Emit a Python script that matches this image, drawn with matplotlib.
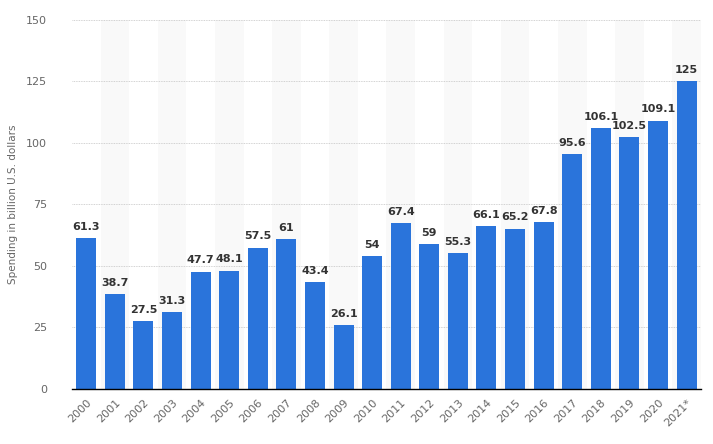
import matplotlib.pyplot as plt

years = ["2000", "2001", "2002", "2003", "2004", "2005", "2006", "2007", "2008",
         "2009", "2010", "2011", "2012", "2013", "2014", "2015", "2016", "2017",
         "2018", "2019", "2020", "2021*"]
spending = [61.3, 38.7, 27.5, 31.3, 47.7, 48.1, 57.5, 61, 43.4, 26.1, 54, 67.4,
            59, 55.3, 66.1, 65.2, 67.8, 95.6, 106.1, 102.5, 109.1, 125]

fig = plt.figure(figsize=(7.13, 4.44), dpi=100)
ax = fig.add_axes([0.101, 0.124, 0.882, 0.831])

x = list(range(len(years)))

# light alternating column bands
for i in x:
    if i % 2 == 1:
        ax.axvspan(i - 0.5, i + 0.5, color="#f9f9f9", zorder=0, lw=0)

ax.bar(x, spending, width=0.7, color="#2a74db", zorder=3)

for xi, v in zip(x, spending):
    ax.text(xi, v + 2.5, f"{v:g}", ha="center", va="bottom", fontsize=8,
            fontweight="bold", color="#333333", zorder=4)

ax.set_xlim(-0.5, len(years) - 0.5)
ax.set_ylim(0, 150)
ax.set_yticks([0, 25, 50, 75, 100, 125, 150])
ax.yaxis.grid(True, linestyle=(0, (1, 1)), color="#c4c4c4", lw=0.6, zorder=1)
ax.set_xticks(x)
ax.set_xticklabels(years, rotation=45, ha="right", rotation_mode="anchor")

ax.tick_params(axis="both", length=0, labelsize=8, colors="#666666")
ax.tick_params(axis="y", pad=18)
ax.tick_params(axis="x", pad=6)

for side in ["top", "right", "left"]:
    ax.spines[side].set_visible(False)
ax.spines["bottom"].set_color("#000000")
ax.spines["bottom"].set_linewidth(1)
ax.spines["bottom"].set_zorder(5)

ax.set_ylabel("Spending in billion U.S. dollars", fontsize=7.5, color="#666666",
              labelpad=6)

fig.savefig("out.png", dpi=100)
